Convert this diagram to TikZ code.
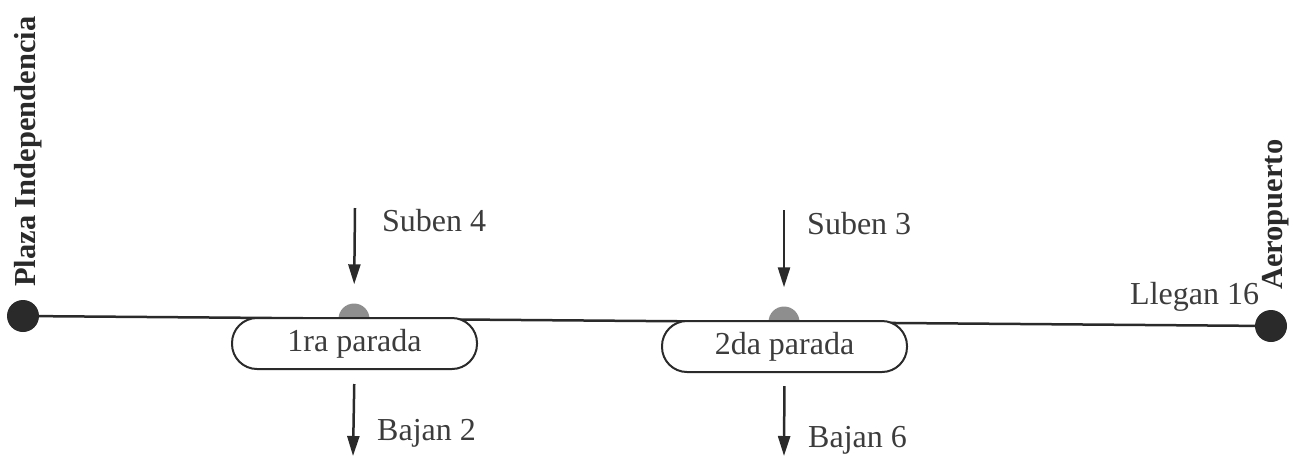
\documentclass[tikz,border=0pt]{standalone}
\usepackage{fontspec}
\setmainfont{Liberation Serif}
\usetikzlibrary{arrows.meta}
\definecolor{ink}{HTML}{2A2A2A}
\definecolor{txt}{HTML}{3C3C3C}
\definecolor{stopgray}{HTML}{8E8E8E}
\tikzset{
  x=1pt, y=-1pt,
  enddot/.style={circle, fill=ink, draw=none, minimum size=32pt, inner sep=0pt},
  stopdot/.style={circle, fill=stopgray, draw=none, minimum size=31pt, inner sep=0pt},
  stopbox/.style={draw=ink, line width=2pt, fill=white, rounded corners=25pt,
    minimum width=245pt, minimum height=51pt, inner sep=0pt, text=txt,
    font=\fontsize{32}{38}\selectfont},
  lbl/.style={inner sep=0pt, anchor=base west, text=txt, font=\fontsize{32}{38}\selectfont},
  place/.style={inner sep=0pt, anchor=base west, rotate=90, text=ink,
    font=\bfseries\fontsize{30.5}{36}\selectfont},
  flow/.style={draw=ink, line width=2.5pt, -{Triangle[length=20pt, width=12pt]}},
  route/.style={draw=ink, line width=2.5pt}
}
\begin{document}
\begin{tikzpicture}
\useasboundingbox (0,0) rectangle (1295,456);
% end points
\node[enddot] (plaza) at (23,316) {};
\node[enddot] (aero) at (1271,326) {};
\draw[route] (plaza) -- (aero);
% stop markers
\node[stopdot] (d1) at (354,319) {};
\node[stopdot] (d2) at (784,322) {};
% stop boxes
\node[stopbox] (b1) at (354.5,343.5) {1ra parada};
\node[stopbox] (b2) at (784.5,346.5) {2da parada};
% flow coordinates
\coordinate (in1) at (355,208);
\coordinate (in2) at (784,210);
\coordinate (out1) at (353,456);
\coordinate (out2) at (784,456);
\draw[flow, shorten >=19pt] (in1) -- (d1.north);
\draw[flow, shorten >=19pt] (in2) -- (d2.north);
\draw[flow, shorten <=14pt] (b1.south) -- (out1);
\draw[flow, shorten <=13pt] (b2.south) -- (out2);
% labels
\node[lbl] (s4) at (382,231) {Suben 4};
\node[lbl] (s3) at (807,234) {Suben 3};
\node[lbl] (b2l) at (377,440) {Bajan 2};
\node[lbl] (b6l) at (808,447) {Bajan 6};
\node[lbl] (ll) at (1130,304) {Llegan 16};
\node[place] (plazalbl) at (35,287) {Plaza Independencia};
\node[place] (aerolbl) at (1282,290) {Aeropuerto};
\end{tikzpicture}
\end{document}
